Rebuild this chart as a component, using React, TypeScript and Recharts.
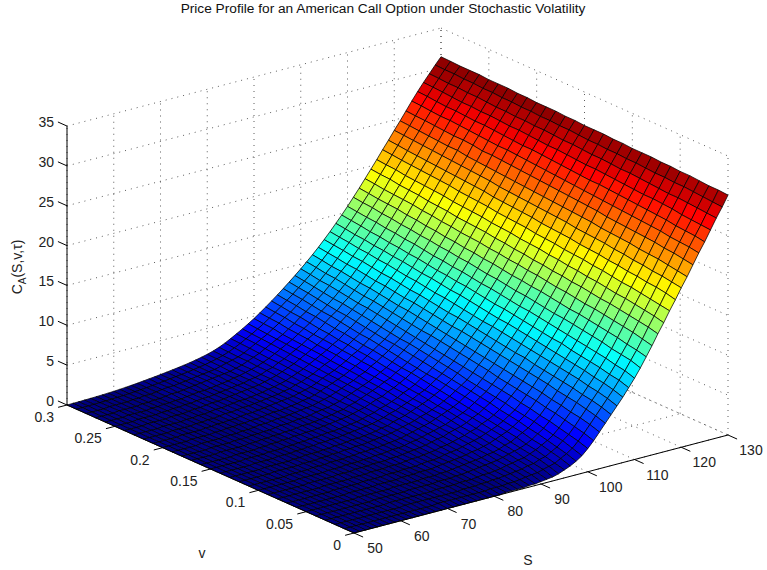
import { Scatter, ScatterChart, XAxis, YAxis } from 'recharts'

const WIDTH = 767
const HEIGHT = 570
const TITLE = 'Price Profile for an American Call Option under Stochastic Volatility'

const S_TICKS = [50, 60, 70, 80, 90, 100, 110, 120, 130]
const V_TICKS = [0, 0.05, 0.1, 0.15, 0.2, 0.25, 0.3]
const V_LABELS = ['0', '0.05', '0.1', '0.15', '0.2', '0.25', '0.3']
const C_TICKS = [0, 5, 10, 15, 20, 25, 30, 35]

// mesh: S = 50,51.25..130 along a row, v = 0,0.01..0.3 down the rows
const S_GRID = [50, 51.25, 52.5, 53.75, 55, 56.25, 57.5, 58.75, 60, 61.25, 62.5, 63.75, 65, 66.25, 67.5, 68.75, 70, 71.25, 72.5, 73.75, 75, 76.25, 77.5, 78.75, 80, 81.25, 82.5, 83.75, 85, 86.25, 87.5, 88.75, 90, 91.25, 92.5, 93.75, 95, 96.25, 97.5, 98.75, 100, 101.25, 102.5, 103.75, 105, 106.25, 107.5, 108.75, 110, 111.25, 112.5, 113.75, 115, 116.25, 117.5, 118.75, 120, 121.25, 122.5, 123.75, 125, 126.25, 127.5, 128.75, 130]
const V_GRID = [0, 0.01, 0.02, 0.03, 0.04, 0.05, 0.06, 0.07, 0.08, 0.09, 0.1, 0.11, 0.12, 0.13, 0.14, 0.15, 0.16, 0.17, 0.18, 0.19, 0.2, 0.21, 0.22, 0.23, 0.24, 0.25, 0.26, 0.27, 0.28, 0.29, 0.3]
const PRICES = [
  [0,0,0,0,0,0,0,0,0,0,0,0,0,0,0,0,0,0,0,0,0,0, 0,0,0,0,.1,.1,.1,.1,.2,.2,.3,.4,.5,.7,1,1.3,1.7,2.2,2.9,3.7,4.6,5.5,6.4,7.3,8.2,9.2,10.2,11.3,12.5,13.7,15,16.2,17.5,18.7,20,21.2,22.5,23.8,25,26.3,27.6,28.8,30.1],
  [0,0,0,0,0,0,0,0,0,0,0,0,0,0,0,0,.1,.1,.1,.1,.1,.1, .1,.1,.1,.2,.2,.2,.3,.3,.4,.5,.6,.7,.9,1.1,1.3,1.7,2.1,2.6,3.3,4.1,5,5.9,6.8,7.7,8.6,9.6,10.6,11.7,12.8,14,15.3,16.5,17.7,19,20.2,21.4,22.7,24,25.2,26.4,27.7,28.9,30.2],
  [0,0,0,0,0,0,0,0,0,0,0,0,.1,.1,.1,.1,.1,.1,.1,.1,.1,.1, .2,.2,.2,.3,.3,.4,.4,.5,.6,.7,.8,1,1.1,1.4,1.6,2,2.4,3,3.6,4.4,5.3,6.2,7.1,8,8.9,9.8,10.8,11.9,13,14.3,15.5,16.7,17.9,19.2,20.4,21.6,22.9,24.1,25.3,26.5,27.8,29,30.2],
  [0,0,0,0,0,0,0,0,0,0,0,.1,.1,.1,.1,.1,.1,.1,.1,.2,.2,.2, .2,.3,.3,.3,.4,.5,.5,.6,.7,.9,1,1.2,1.3,1.6,1.9,2.3,2.7,3.2,3.9,4.7,5.5,6.5,7.3,8.2,9.1,10.1,11.1,12.1,13.3,14.5,15.7,16.9,18.1,19.3,20.5,21.8,23,24.2,25.4,26.6,27.9,29.1,30.3],
  [0,0,0,0,0,0,0,0,0,0,.1,.1,.1,.1,.1,.1,.2,.2,.2,.2,.2,.3, .3,.3,.4,.4,.5,.6,.7,.8,.9,1,1.2,1.4,1.6,1.8,2.1,2.5,3,3.5,4.2,5,5.8,6.7,7.6,8.5,9.4,10.3,11.3,12.4,13.5,14.7,15.9,17.1,18.3,19.5,20.7,21.9,23.2,24.4,25.6,26.8,28,29.2,30.4],
  [0,0,0,0,0,0,0,0,0,.1,.1,.1,.1,.1,.1,.2,.2,.2,.2,.2,.3,.3, .3,.4,.4,.5,.6,.7,.8,.9,1,1.2,1.3,1.5,1.8,2,2.4,2.8,3.2,3.8,4.4,5.2,6,6.9,7.8,8.7,9.6,10.5,11.5,12.6,13.7,14.9,16.1,17.2,18.4,19.6,20.8,22,23.3,24.5,25.7,26.9,28,29.2,30.4],
  [0,0,0,0,0,0,0,0,0,.1,.1,.1,.1,.1,.2,.2,.2,.2,.3,.3,.3,.4, .4,.4,.5,.6,.7,.8,.9,1,1.2,1.3,1.5,1.7,2,2.3,2.6,3,3.5,4,4.7,5.5,6.3,7.2,8,8.9,9.8,10.7,11.7,12.8,13.9,15.1,16.2,17.4,18.6,19.8,21,22.2,23.4,24.6,25.8,27,28.1,29.3,30.5],
  [0,0,0,0,0,0,0,0,.1,.1,.1,.1,.1,.2,.2,.2,.2,.3,.3,.3,.4,.4, .4,.5,.6,.6,.7,.9,1,1.1,1.3,1.5,1.7,1.9,2.2,2.5,2.8,3.2,3.7,4.2,4.9,5.7,6.5,7.4,8.2,9.1,10,11,11.9,13,14.1,15.2,16.4,17.6,18.8,19.9,21.1,22.3,23.5,24.7,25.9,27,28.2,29.3,30.5],
  [0,0,0,0,0,0,0,0,.1,.1,.1,.1,.1,.2,.2,.2,.3,.3,.3,.4,.4,.4, .5,.6,.6,.7,.8,.9,1.1,1.2,1.4,1.6,1.8,2.1,2.3,2.7,3,3.4,3.9,4.5,5.2,5.9,6.7,7.6,8.4,9.3,10.2,11.1,12.1,13.2,14.2,15.4,16.6,17.7,18.9,20.1,21.3,22.4,23.6,24.8,26,27.1,28.3,29.4,30.6],
  [0,0,0,0,0,0,0,.1,.1,.1,.1,.1,.2,.2,.2,.3,.3,.3,.4,.4,.4,.5, .5,.6,.7,.8,.9,1,1.2,1.4,1.5,1.8,2,2.2,2.5,2.9,3.2,3.7,4.2,4.7,5.4,6.1,6.9,7.8,8.7,9.5,10.4,11.3,12.3,13.3,14.4,15.6,16.7,17.9,19.1,20.2,21.4,22.5,23.7,24.9,26.1,27.2,28.4,29.5,30.6],
  [0,0,0,0,0,0,0,.1,.1,.1,.1,.1,.2,.2,.2,.3,.3,.3,.4,.4,.5,.5, .6,.7,.7,.8,1,1.1,1.3,1.5,1.7,1.9,2.1,2.4,2.7,3,3.4,3.9,4.4,4.9,5.6,6.3,7.1,8,8.8,9.7,10.6,11.5,12.5,13.5,14.6,15.7,16.9,18,19.2,20.3,21.5,22.7,23.9,25,26.2,27.3,28.4,29.5,30.6],
  [0,0,0,0,0,0,0,.1,.1,.1,.1,.2,.2,.2,.3,.3,.3,.4,.4,.5,.5,.6, .6,.7,.8,.9,1,1.2,1.4,1.6,1.8,2,2.3,2.6,2.9,3.2,3.6,4.1,4.6,5.1,5.8,6.6,7.3,8.2,9,9.9,10.8,11.7,12.7,13.7,14.8,15.9,17,18.2,19.3,20.5,21.6,22.8,24,25.1,26.3,27.4,28.5,29.6,30.7],
  [0,0,0,0,0,0,.1,.1,.1,.1,.1,.2,.2,.2,.3,.3,.4,.4,.5,.5,.6,.6, .7,.8,.9,1,1.1,1.3,1.5,1.7,1.9,2.2,2.4,2.7,3,3.4,3.8,4.3,4.8,5.3,6,6.8,7.5,8.4,9.2,10.1,11,11.9,12.8,13.9,14.9,16.1,17.2,18.3,19.5,20.6,21.8,22.9,24.1,25.2,26.3,27.5,28.6,29.6,30.7],
  [0,0,0,0,0,0,.1,.1,.1,.1,.1,.2,.2,.3,.3,.3,.4,.4,.5,.5,.6,.7, .7,.8,.9,1,1.2,1.3,1.6,1.8,2,2.3,2.6,2.9,3.2,3.6,4,4.5,5,5.6,6.2,7,7.7,8.6,9.4,10.3,11.1,12.1,13,14,15.1,16.2,17.3,18.5,19.6,20.7,21.9,23,24.2,25.3,26.4,27.5,28.6,29.7,30.8],
  [0,0,0,0,0,0,.1,.1,.1,.1,.2,.2,.2,.3,.3,.4,.4,.5,.5,.6,.6,.7, .8,.9,1,1.1,1.2,1.4,1.6,1.9,2.1,2.4,2.7,3,3.4,3.7,4.2,4.7,5.2,5.8,6.4,7.2,7.9,8.8,9.6,10.4,11.3,12.2,13.2,14.2,15.2,16.4,17.5,18.6,19.7,20.8,22,23.1,24.3,25.4,26.5,27.6,28.7,29.7,30.8],
  [0,0,0,0,0,0,.1,.1,.1,.1,.2,.2,.2,.3,.3,.4,.4,.5,.5,.6,.7,.7, .8,.9,1,1.1,1.3,1.5,1.7,2,2.2,2.5,2.8,3.2,3.5,3.9,4.4,4.8,5.4,6,6.6,7.4,8.1,9,9.8,10.6,11.5,12.4,13.4,14.4,15.4,16.5,17.6,18.7,19.9,21,22.1,23.2,24.4,25.5,26.6,27.7,28.8,29.8,30.8],
  [0,0,0,0,0,0,.1,.1,.1,.1,.2,.2,.3,.3,.4,.4,.5,.5,.6,.6,.7,.8, .9,1,1.1,1.2,1.4,1.6,1.8,2.1,2.4,2.6,3,3.3,3.7,4.1,4.6,5,5.6,6.2,6.8,7.6,8.3,9.1,10,10.8,11.7,12.6,13.5,14.5,15.6,16.7,17.8,18.9,20,21.1,22.2,23.3,24.5,25.6,26.7,27.8,28.8,29.9,30.9],
  [0,0,0,0,0,.1,.1,.1,.1,.1,.2,.2,.3,.3,.4,.4,.5,.5,.6,.7,.7,.8, .9,1,1.1,1.3,1.4,1.7,1.9,2.2,2.5,2.8,3.1,3.5,3.8,4.3,4.7,5.2,5.8,6.4,7,7.8,8.5,9.3,10.1,11,11.9,12.8,13.7,14.7,15.7,16.8,17.9,19,20.1,21.2,22.3,23.4,24.6,25.7,26.8,27.8,28.9,29.9,30.9],
  [0,0,0,0,0,.1,.1,.1,.1,.2,.2,.2,.3,.3,.4,.4,.5,.6,.6,.7,.8,.8, .9,1.1,1.2,1.3,1.5,1.7,2,2.3,2.6,2.9,3.2,3.6,4,4.4,4.9,5.4,6,6.6,7.2,7.9,8.7,9.5,10.3,11.2,12,12.9,13.9,14.9,15.9,17,18.1,19.1,20.2,21.3,22.4,23.5,24.7,25.8,26.9,27.9,29,30,31],
  [0,0,0,0,0,.1,.1,.1,.1,.2,.2,.2,.3,.3,.4,.5,.5,.6,.7,.7,.8,.9, 1,1.1,1.2,1.4,1.6,1.8,2.1,2.4,2.7,3,3.4,3.7,4.2,4.6,5.1,5.6,6.2,6.7,7.4,8.1,8.9,9.7,10.5,11.3,12.2,13.1,14,15,16,17.1,18.2,19.3,20.4,21.4,22.5,23.6,24.8,25.9,26.9,28,29,30,31],
  [0,0,0,0,0,.1,.1,.1,.1,.2,.2,.3,.3,.4,.4,.5,.5,.6,.7,.8,.8,.9, 1,1.1,1.3,1.4,1.6,1.9,2.2,2.5,2.8,3.1,3.5,3.9,4.3,4.8,5.3,5.8,6.3,6.9,7.6,8.3,9.1,9.9,10.7,11.5,12.4,13.2,14.2,15.2,16.2,17.2,18.3,19.4,20.5,21.6,22.7,23.7,24.9,26,27,28.1,29.1,30.1,31],
  [0,0,0,0,0,.1,.1,.1,.1,.2,.2,.3,.3,.4,.4,.5,.6,.6,.7,.8,.9,1, 1.1,1.2,1.3,1.5,1.7,1.9,2.2,2.6,2.9,3.2,3.6,4,4.5,4.9,5.4,6,6.5,7.1,7.8,8.5,9.2,10.0,10.8,11.7,12.5,13.4,14.3,15.3,16.3,17.4,18.4,19.5,20.6,21.7,22.8,23.8,25,26,27.1,28.1,29.1,30.1,31.1],
  [0,0,0,0,0,.1,.1,.1,.1,.2,.2,.3,.3,.4,.5,.5,.6,.7,.7,.8,.9,1, 1.1,1.2,1.4,1.5,1.8,2,2.3,2.6,3,3.4,3.7,4.2,4.6,5.1,5.6,6.1,6.7,7.3,8,8.7,9.4,10.2,11,11.8,12.7,13.6,14.5,15.5,16.5,17.5,18.6,19.6,20.7,21.8,22.9,23.9,25,26.1,27.2,28.2,29.2,30.2,31.1],
  [0,0,0,0,0,.1,.1,.1,.1,.2,.2,.3,.3,.4,.5,.5,.6,.7,.8,.8,.9,1, 1.1,1.3,1.4,1.6,1.8,2.1,2.4,2.7,3.1,3.5,3.9,4.3,4.8,5.2,5.8,6.3,6.9,7.5,8.2,8.9,9.6,10.4,11.2,12,12.9,13.7,14.7,15.6,16.6,17.7,18.7,19.8,20.9,21.9,23,24.0,25.2,26.2,27.3,28.3,29.2,30.2,31.2],
  [0,0,0,0,.1,.1,.1,.1,.2,.2,.2,.3,.4,.4,.5,.6,.6,.7,.8,.9,1,1.1, 1.2,1.3,1.5,1.7,1.9,2.2,2.5,2.8,3.2,3.6,4,4.4,4.9,5.4,5.9,6.5,7.1,7.7,8.3,9,9.8,10.5,11.3,12.2,13,13.9,14.8,15.8,16.8,17.8,18.8,19.9,21,22,23.1,24.2,25.3,26.3,27.3,28.3,29.3,30.3,31.2],
  [0,0,0,0,.1,.1,.1,.1,.2,.2,.3,.3,.4,.4,.5,.6,.6,.7,.8,.9,1,1.1, 1.2,1.4,1.5,1.7,2,2.2,2.6,2.9,3.3,3.7,4.1,4.6,5,5.5,6.1,6.7,7.2,7.9,8.5,9.2,9.9,10.7,11.5,12.3,13.2,14,15,15.9,16.9,18,19,20,21.1,22.1,23.2,24.2,25.3,26.4,27.4,28.4,29.4,30.3,31.2],
  [0,0,0,0,.1,.1,.1,.1,.2,.2,.3,.3,.4,.4,.5,.6,.7,.7,.8,.9,1,1.1, 1.3,1.4,1.6,1.8,2,2.3,2.6,3,3.4,3.8,4.2,4.7,5.2,5.7,6.3,6.8,7.4,8,8.7,9.4,10.1,10.9,11.7,12.5,13.3,14.2,15.1,16.1,17.1,18.1,19.1,20.1,21.2,22.2,23.3,24.3,25.4,26.5,27.5,28.4,29.4,30.4,31.3],
  [0,0,0,0,.1,.1,.1,.1,.2,.2,.3,.3,.4,.5,.5,.6,.7,.8,.9,1,1.1,1.2, 1.3,1.4,1.6,1.8,2.1,2.4,2.7,3.1,3.5,3.9,4.3,4.8,5.3,5.9,6.4,7,7.6,8.2,8.9,9.6,10.3,11,11.8,12.6,13.5,14.3,15.3,16.2,17.2,18.2,19.2,20.2,21.3,22.3,23.4,24.4,25.5,26.5,27.5,28.5,29.5,30.4,31.3],
  [0,0,0,0,.1,.1,.1,.1,.2,.2,.3,.3,.4,.5,.6,.6,.7,.8,.9,1,1.1,1.2, 1.3,1.5,1.7,1.9,2.1,2.4,2.8,3.2,3.6,4,4.5,5,5.5,6,6.6,7.2,7.8,8.4,9,9.7,10.4,11.2,12,12.8,13.6,14.5,15.4,16.4,17.3,18.3,19.4,20.4,21.4,22.4,23.5,24.5,25.6,26.6,27.6,28.6,29.5,30.5,31.3],
  [0,.01,.02,.04,.06,.08,.11,.14,.18,.22,.28,.34,.41,.49,.56,.64,.73,.82,.91,1.01,1.12,1.24, 1.37,1.53,1.7,1.92,2.18,2.5,2.87,3.27,3.68,4.12,4.58,5.09,5.62,6.17,6.74,7.33,7.95,8.57,9.22,9.91,10.61,11.36,12.14,12.94,13.79,14.65,15.55,16.5,17.46,18.47,19.47,20.48,21.54,22.54,23.6,24.61,25.66,26.72,27.72,28.68,29.59,30.5,31.36],
  [0,.01,.02,.04,.06,.08,.11,.14,.18,.23,.29,.35,.42,.5,.58,.66,.75,.84,.94,1.04,1.15,1.27, 1.41,1.57,1.75,1.97,2.24,2.57,2.95,3.36,3.78,4.23,4.7,5.22,5.76,6.32,6.9,7.5,8.12,8.75,9.4,10.08,10.78,11.52,12.3,13.1,13.95,14.8,15.7,16.65,17.6,18.6,19.6,20.6,21.65,22.65,23.7,24.7,25.75,26.8,27.8,28.75,29.65,30.55,31.4],
]

const C_MAX = 32

// oblique view: S = 50, v = 0.3, C = 0 sits at (67, 405) on the page
function project(s: number, v: number, c: number) {
  const ds = (s - 50) / 80
  const dv = (0.3 - v) / 0.3
  return { x: 67 + 374 * ds + 287 * dv, y: 405 - 98 * ds + 128 * dv - 7.97 * c }
}

function jet(value: number) {
  const t = Math.min(63, Math.floor((value / C_MAX) * 64)) / 63
  const part = (d: number) => Math.round(255 * Math.max(0, Math.min(1, 1.5 - Math.abs(4 * t - d))))
  return `rgb(${part(3)},${part(2)},${part(1)})`
}

type Seg = { x: number; y: number; dx: number; dy: number }
type Cell = { x: number; y: number; offsets: number[][]; fill: string }
type Tag = { x: number; y: number; text: string; anchor: string }

function seg(a: { x: number; y: number }, b: { x: number; y: number }): Seg {
  return { x: a.x, y: a.y, dx: b.x - a.x, dy: b.y - a.y }
}

const gridSegs: Seg[] = []
C_TICKS.forEach((c) => {
  gridSegs.push(seg(project(50, 0.3, c), project(130, 0.3, c)))
  gridSegs.push(seg(project(130, 0.3, c), project(130, 0, c)))
})
S_TICKS.forEach((s) => {
  gridSegs.push(seg(project(s, 0.3, 0), project(s, 0.3, 35)))
  gridSegs.push(seg(project(s, 0, 0), project(s, 0.3, 0)))
})
V_TICKS.forEach((v) => {
  gridSegs.push(seg(project(130, v, 0), project(130, v, 35)))
  gridSegs.push(seg(project(50, v, 0), project(130, v, 0)))
})

const axisSegs: Seg[] = [
  seg(project(50, 0.3, 0), project(50, 0.3, 35)),
  seg(project(50, 0.3, 0), project(50, 0, 0)),
  seg(project(50, 0, 0), project(130, 0, 0)),
]
C_TICKS.forEach((c) => axisSegs.push(seg(project(50, 0.3, c), project(50, 0.3095, c))))
S_TICKS.forEach((s) => axisSegs.push(seg(project(s, 0, 0), project(s, -0.0095, 0))))
V_TICKS.forEach((v) => axisSegs.push(seg(project(50, v, 0), project(48.1, v, 0))))

const cells: Cell[] = []
for (let i = V_GRID.length - 2; i >= 0; i--) {
  for (let j = S_GRID.length - 2; j >= 0; j--) {
    const a = project(S_GRID[j], V_GRID[i], PRICES[i][j])
    const b = project(S_GRID[j + 1], V_GRID[i], PRICES[i][j + 1])
    const c = project(S_GRID[j + 1], V_GRID[i + 1], PRICES[i + 1][j + 1])
    const d = project(S_GRID[j], V_GRID[i + 1], PRICES[i + 1][j])
    cells.push({
      x: a.x,
      y: a.y,
      offsets: [b, c, d].map((p) => [p.x - a.x, p.y - a.y]),
      fill: jet(PRICES[i + 1][j + 1]),
    })
  }
}

const tags: Tag[] = [
  ...C_TICKS.map((c) => {
    const p = project(50, 0.3, c)
    return { x: p.x - 13, y: p.y - 4, text: String(c), anchor: 'end' }
  }),
  ...V_TICKS.map((v, k) => {
    const p = project(50, v, 0)
    return { x: p.x - 13, y: p.y + 12, text: V_LABELS[k], anchor: 'end' }
  }),
  ...S_TICKS.map((s) => {
    const p = project(s, 0, 0)
    return { x: p.x + (s >= 100 ? 23 : 21), y: p.y + 15, text: String(s), anchor: 'middle' }
  }),
  { x: 528, y: 560, text: 'S', anchor: 'middle' },
  { x: 202, y: 553, text: 'v', anchor: 'middle' },
]

const FONT = '"Liberation Sans", Arial, sans-serif'

function SegShape(props: any) {
  const { cx, cy, payload, dotted } = props
  return (
    <line
      x1={cx}
      y1={cy}
      x2={cx + payload.dx}
      y2={cy + payload.dy}
      stroke={dotted ? '#333' : '#000'}
      strokeWidth={dotted ? 0.8 : 1}
      strokeDasharray={dotted ? '1 5' : undefined}
    />
  )
}

function CellShape(props: any) {
  const { cx, cy, payload } = props
  const pts = [[0, 0], ...payload.offsets].map(([dx, dy]: number[]) => `${cx + dx},${cy + dy}`).join(' ')
  return <polygon points={pts} fill={payload.fill} stroke="#000" strokeWidth={0.75} strokeLinejoin="round" />
}

function TagShape(props: any) {
  const { cx, cy, payload } = props
  return (
    <text x={cx} y={cy} textAnchor={payload.anchor} dominantBaseline="central" fontFamily={FONT} fontSize={14} fill="#222">
      {payload.text}
    </text>
  )
}

function TitleShape(props: any) {
  return (
    <text x={props.cx} y={props.cy} textAnchor="middle" dominantBaseline="central" fontFamily={FONT} fontSize={13.7} fill="#111">
      {TITLE}
    </text>
  )
}

function YLabelShape(props: any) {
  const { cx, cy } = props
  return (
    <text x={cx} y={cy} transform={`rotate(-90 ${cx} ${cy})`} textAnchor="middle" fontFamily={FONT} fontSize={14} fill="#222">
      C
      <tspan fontSize={10} dy={4}>A</tspan>
      <tspan dy={-4}>(S,v,τ)</tspan>
    </text>
  )
}

export default function App() {
  return (
    <div style={{ position: 'absolute', left: 0, top: 0, width: WIDTH, height: HEIGHT, background: '#fff' }}>
      <ScatterChart width={WIDTH} height={HEIGHT} margin={{ top: 0, right: 0, bottom: 0, left: 0 }}>
        <XAxis type="number" dataKey="x" domain={[0, WIDTH]} hide allowDataOverflow />
        <YAxis type="number" dataKey="y" domain={[0, HEIGHT]} reversed hide allowDataOverflow />
        <Scatter data={gridSegs} isAnimationActive={false} shape={<SegShape dotted />} />
        <Scatter data={cells} isAnimationActive={false} shape={<CellShape />} />
        <Scatter data={axisSegs} isAnimationActive={false} shape={<SegShape />} />
        <Scatter data={tags} isAnimationActive={false} shape={<TagShape />} />
        <Scatter data={[{ x: 383, y: 8 }]} isAnimationActive={false} shape={<TitleShape />} />
        <Scatter data={[{ x: 22, y: 267 }]} isAnimationActive={false} shape={<YLabelShape />} />
      </ScatterChart>
    </div>
  )
}
